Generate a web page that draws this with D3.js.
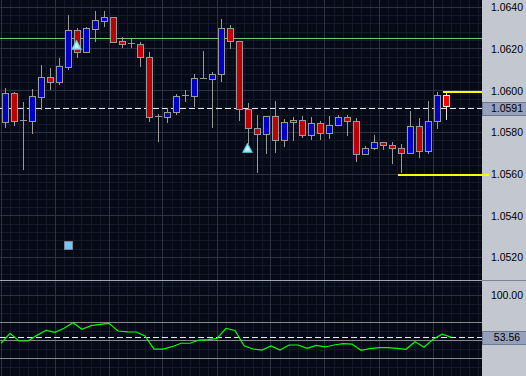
<!DOCTYPE html>
<html>
<head>
<meta charset="utf-8">
<script src="https://cdn.jsdelivr.net/npm/d3@7"></script>
<style>
  html, body { margin: 0; padding: 0; background: #050a16; }
  svg { display: block; }
  text { font-family: "Liberation Sans", Arial, sans-serif; }
</style>
</head>
<body>
<svg width="526" height="376"></svg>
<script>
// candle data (EUR-ish quote, 50 bars)
const opens = [1.05848,1.05988,1.05858,1.05856,1.05971,1.06064,1.06043,1.06115,1.0629,1.06187,
  1.06297,1.06336,1.06352,1.06237,1.06224,1.06223,1.0616,1.05874,1.05872,1.05896,
  1.05976,1.05976,1.0606,1.06058,1.0608,1.06299,1.0624,1.05911,1.0582,1.05791,
  1.05877,1.05762,1.05848,1.05858,1.05786,1.05844,1.05796,1.05834,1.05872,1.05853,
  1.05695,1.05724,1.05753,1.05738,1.05724,1.057,1.05829,1.05709,1.05853,1.05978];
const highs = [1.06012,1.05994,1.05946,1.06008,1.06123,1.06109,1.06155,1.06363,1.06299,1.06304,
  1.06382,1.06382,1.06352,1.06258,1.06247,1.06232,1.06186,1.05888,1.05916,1.05984,
  1.06003,1.0608,1.0619,1.06091,1.06342,1.06315,1.0624,1.0594,1.05883,1.05877,
  1.05951,1.05863,1.05874,1.05879,1.05872,1.05853,1.05879,1.05882,1.05882,1.05868,
  1.05733,1.05788,1.05753,1.05753,1.05743,1.05903,1.05868,1.05949,1.05992,1.05992];
const lows = [1.05827,1.05836,1.05626,1.05799,1.05911,1.06008,1.06034,1.06106,1.06163,1.06187,
  1.0624,1.06312,1.06235,1.06211,1.0621,1.0612,1.05856,1.0576,1.05851,1.0589,
  1.05952,1.05927,1.0606,1.05827,1.06048,1.06206,1.0586,1.05749,1.05612,1.057,
  1.05707,1.05736,1.05764,1.05777,1.0577,1.05767,1.05773,1.05834,1.05786,1.05664,
  1.05695,1.05719,1.05722,1.05652,1.05612,1.057,1.05681,1.057,1.0582,1.05863];
const closes = [1.05988,1.05856,1.05858,1.05975,1.06064,1.06043,1.06117,1.0629,1.06187,1.06299,
  1.06338,1.06352,1.06235,1.06223,1.06224,1.0616,1.05872,1.05874,1.05896,1.05973,
  1.05976,1.0606,1.0606,1.0608,1.06299,1.0624,1.05912,1.0582,1.05792,1.05877,
  1.05762,1.05848,1.05858,1.05786,1.05844,1.05796,1.05834,1.05872,1.05853,1.05695,
  1.05724,1.05753,1.05738,1.05724,1.057,1.05829,1.05709,1.05853,1.05978,1.05925];

// oscillator (51 points, first one belongs to the bar before the window)
const osc = [46.7,57.8,49.2,49.2,55.5,61.1,58.9,63.3,69.6,62.2,
  66.3,67.8,68.9,60.3,59.4,59.2,54.8,40.3,40.3,42.9,
  46.7,46.7,50.3,50.8,52.2,63.3,61.0,44.0,40.3,39.2,
  43.7,39.2,44.8,44.8,41.1,44.4,42.6,44.8,46.2,45.8,
  38.9,40.7,41.8,41.8,41.0,40.0,48.4,42.2,51.1,56.7,53.56];

const priceTicks = [1.052, 1.054, 1.056, 1.058, 1.060, 1.062, 1.064];
const oscTicks = [100];
const oscLevels = [70, 50, 30];
const bidPrice = 1.05916;
const greenLevel = 1.0625;
const yellowLevels = [{ price: 1.0600, from: 49, extend: 0 }, { price: 1.0560, from: 44, extend: 7 }];
const arrowsUp = [{ i: 8, price: 1.06219 }, { i: 27, price: 1.05725 }];
const squares = [{ i: 7, price: 1.05258 }];

const W = 526, H = 376, PLOT_W = 482;
const SPLIT = 280;
const N = closes.length;

const x = d3.scaleLinear().domain([-0.5, N - 0.5]).range([1, 1 + 9 * N]);
const y = d3.scaleLinear().domain([1.05092, 1.06435]).range([SPLIT, 0]);
const yR = d3.scaleLinear().domain([10.33, 115.9]).range([H, SPLIT + 1]);

const crisp = v => Math.floor(v) + 0.5;

const svg = d3.select("svg");

svg.append("rect").attr("width", PLOT_W).attr("height", H).attr("fill", "#050a16");
svg.append("rect").attr("x", PLOT_W).attr("width", W - PLOT_W).attr("height", H).attr("fill", "#c3c7d0");

const grid = svg.append("g").attr("shape-rendering", "crispEdges");

// minor grid
const vCount = Math.ceil(PLOT_W / 9);
grid.selectAll(".vmin").data(d3.range(vCount)).enter().append("line")
  .attr("x1", k => crisp(x(k - 0.5))).attr("x2", k => crisp(x(k - 0.5)))
  .attr("y1", 0).attr("y2", H)
  .attr("stroke", "#121a2a");
grid.selectAll(".hmin").data(d3.range(35).map(k => 1.0508 + k * 0.0004)).enter().append("line")
  .attr("x1", 0).attr("x2", PLOT_W)
  .attr("y1", d => crisp(y(d))).attr("y2", d => crisp(y(d)))
  .attr("stroke", "#121a2a");
grid.selectAll(".hminr").data(d3.range(20, 120, 10)).enter().append("line")
  .attr("x1", 0).attr("x2", PLOT_W)
  .attr("y1", d => crisp(yR(d))).attr("y2", d => crisp(yR(d)))
  .attr("stroke", "#121a2a");

// major grid
grid.selectAll(".vmaj").data(d3.range(0, vCount, 6)).enter().append("line")
  .attr("x1", k => crisp(x(k - 0.5))).attr("x2", k => crisp(x(k - 0.5)))
  .attr("y1", 0).attr("y2", H)
  .attr("stroke", "#2b3243");
grid.selectAll(".hmaj").data(priceTicks).enter().append("line")
  .attr("x1", 0).attr("x2", PLOT_W)
  .attr("y1", d => crisp(y(d))).attr("y2", d => crisp(y(d)))
  .attr("stroke", "#2b3243");
grid.selectAll(".hmajr").data(oscTicks).enter().append("line")
  .attr("x1", 0).attr("x2", PLOT_W)
  .attr("y1", d => crisp(yR(d))).attr("y2", d => crisp(yR(d)))
  .attr("stroke", "#2b3243");

// panel separator
grid.append("line").attr("x1", 0).attr("x2", PLOT_W).attr("y1", SPLIT + 0.5).attr("y2", SPLIT + 0.5).attr("stroke", "#a2a8b6");
grid.append("line").attr("x1", PLOT_W).attr("x2", W).attr("y1", SPLIT + 0.5).attr("y2", SPLIT + 0.5).attr("stroke", "#7c8494");

// green level
grid.append("line").attr("x1", 0).attr("x2", PLOT_W)
  .attr("y1", crisp(y(greenLevel))).attr("y2", crisp(y(greenLevel)))
  .attr("stroke", "#74c874");

// bid dashed line
grid.append("line").attr("x1", 0).attr("x2", PLOT_W)
  .attr("y1", crisp(y(bidPrice))).attr("y2", crisp(y(bidPrice)))
  .attr("stroke", "#e6eaf6").attr("stroke-dasharray", "6,3");

// candles
const candles = svg.append("g").attr("shape-rendering", "crispEdges");
const bars = d3.range(N).map(i => ({ i, o: opens[i], h: highs[i], l: lows[i], c: closes[i] }));

candles.selectAll(".wick").data(bars).enter().append("line")
  .attr("x1", d => crisp(x(d.i))).attr("x2", d => crisp(x(d.i)))
  .attr("y1", d => Math.round(y(d.h))).attr("y2", d => Math.round(y(d.l)) + 1)
  .attr("stroke", d => d.i === N - 1 ? "#e6e6e6" : "#9a9a9a");

const bodies = bars.filter(d => Math.abs(d.o - d.c) > 0.00002);
candles.selectAll(".body").data(bodies).enter().append("rect")
  .attr("x", d => crisp(x(d.i)) - 3)
  .attr("y", d => Math.round(y(Math.max(d.o, d.c))) + 0.5)
  .attr("width", 6)
  .attr("height", d => Math.round(y(Math.min(d.o, d.c))) - Math.round(y(Math.max(d.o, d.c))))
  .attr("fill", d => d.i === N - 1 ? "#ff0000" : (d.c > d.o ? "#0000c8" : "#c00000"))
  .attr("stroke", d => d.i === N - 1 ? "#e6e6e6" : "#9a9a9a");

const dojis = bars.filter(d => Math.abs(d.o - d.c) <= 0.00002);
candles.selectAll(".doji").data(dojis).enter().append("line")
  .attr("x1", d => crisp(x(d.i)) - 3.5).attr("x2", d => crisp(x(d.i)) + 3.5)
  .attr("y1", d => crisp(y(d.c))).attr("y2", d => crisp(y(d.c)))
  .attr("stroke", "#9a9a9a");

// yellow high/low lines
candles.selectAll(".yl").data(yellowLevels).enter().append("line")
  .attr("x1", d => crisp(x(d.from)) - 4).attr("x2", d => PLOT_W + d.extend)
  .attr("y1", d => Math.round(y(d.price)) + 1).attr("y2", d => Math.round(y(d.price)) + 1)
  .attr("stroke", "#ffff00").attr("stroke-width", 2);

// signal markers
svg.selectAll(".arrow").data(arrowsUp).enter().append("path")
  .attr("d", d => {
    const cx = x(d.i) - 1, cy = y(d.price);
    return `M${cx},${cy - 5}L${cx + 5},${cy + 4.5}L${cx - 5},${cy + 4.5}Z`;
  })
  .attr("fill", "#7fe9f2").attr("stroke", "#5fc8d8").attr("stroke-width", 0.6);
svg.selectAll(".arrowHi").data(arrowsUp).enter().append("path")
  .attr("d", d => {
    const cx = x(d.i) - 1, cy = y(d.price);
    return `M${cx},${cy - 2}L${cx + 2.2},${cy + 2.5}L${cx - 2.2},${cy + 2.5}Z`;
  })
  .attr("fill", "#d8ffff");

svg.selectAll(".sq").data(squares).enter().append("rect")
  .attr("x", d => crisp(x(d.i)) - 4).attr("y", d => crisp(y(d.price)) - 4)
  .attr("width", 8).attr("height", 8)
  .attr("fill", "#74c6ff").attr("stroke", "#7c8494")
  .attr("shape-rendering", "crispEdges");

// oscillator panel
const lower = svg.append("g");
lower.selectAll(".lvl").data(oscLevels).enter().append("line")
  .attr("x1", 0).attr("x2", PLOT_W)
  .attr("y1", d => crisp(yR(d))).attr("y2", d => crisp(yR(d)))
  .attr("stroke", "#8a8a8a").attr("shape-rendering", "crispEdges");

const oscNow = osc[osc.length - 1];
lower.append("line").attr("x1", 0).attr("x2", PLOT_W)
  .attr("y1", crisp(yR(oscNow))).attr("y2", crisp(yR(oscNow)))
  .attr("stroke", "#e6eaf6").attr("stroke-dasharray", "6,3")
  .attr("shape-rendering", "crispEdges");

const oscLine = d3.line().x((d, k) => x(k - 0.5)).y(d => yR(d));
lower.append("path").datum(osc).attr("d", oscLine)
  .attr("fill", "none").attr("stroke", "#00ff00").attr("stroke-width", 1.2);

// right axes
const fmt4 = v => (Math.floor(v * 1e4 + 1e-6) / 1e4).toFixed(4);

const axP = svg.append("g").attr("transform", `translate(${PLOT_W},0)`)
  .call(d3.axisRight(y).tickValues(priceTicks).tickSize(0).tickFormat(d3.format(".4f")));
const axR = svg.append("g").attr("transform", `translate(${PLOT_W},0)`)
  .call(d3.axisRight(yR).tickValues(oscTicks).tickSize(0).tickFormat(d3.format(".2f")));
[axP, axR].forEach(a => {
  a.select(".domain").remove();
  a.selectAll("text").attr("x", 25).attr("text-anchor", "middle")
    .attr("fill", "#000").attr("font-size", "10.5px")
    .attr("font-family", "Liberation Sans, Arial, sans-serif");
});

const tags = [
  { y: y(bidPrice), label: fmt4(bidPrice) },
  { y: yR(oscNow), label: oscNow.toFixed(2) }
];
const tagG = svg.selectAll(".tag").data(tags).enter().append("g");
tagG.append("rect")
  .attr("x", PLOT_W + 0.5).attr("y", d => crisp(d.y) - 6.5)
  .attr("width", W - PLOT_W).attr("height", 13)
  .attr("fill", "#95a1ba").attr("stroke", "#6e7892")
  .attr("shape-rendering", "crispEdges");
tagG.append("text")
  .attr("x", PLOT_W + 25).attr("y", d => crisp(d.y))
  .attr("dy", "0.36em").attr("text-anchor", "middle")
  .attr("font-size", "10.5px").attr("fill", "#000")
  .text(d => d.label);
</script>
</body>
</html>
